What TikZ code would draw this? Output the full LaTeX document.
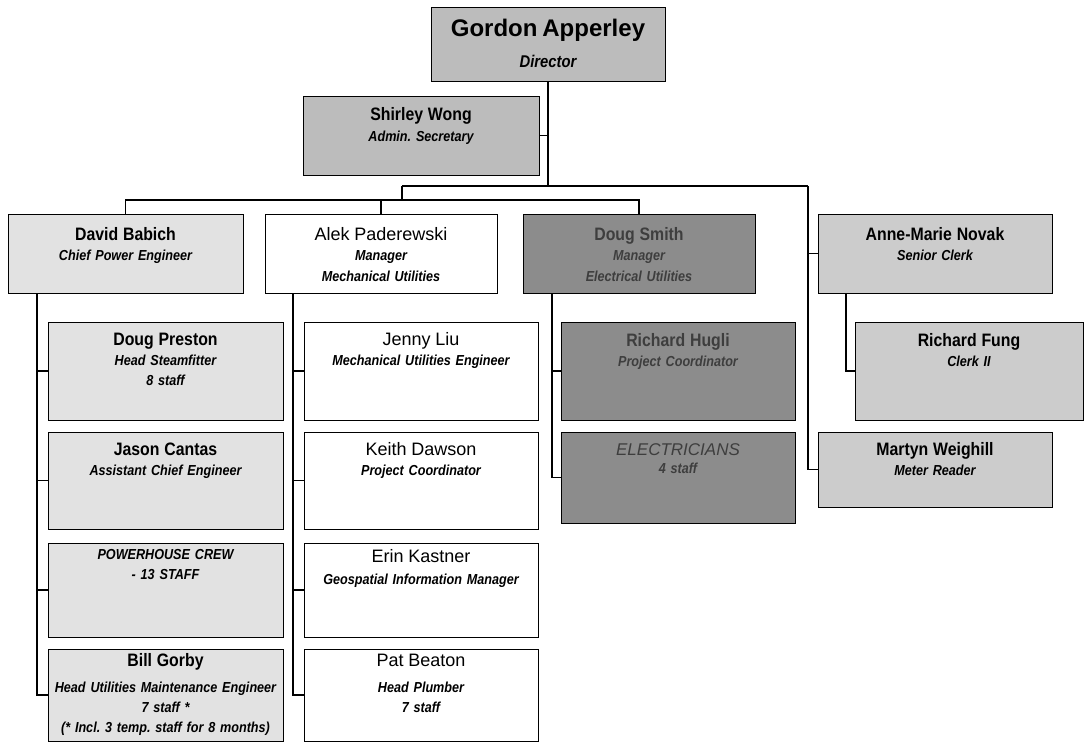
\documentclass[tikz,border=0pt]{standalone}
\usepackage{fontspec}
\setmainfont{Liberation Sans}
\newfontfamily\NarrowFam[FakeStretch=0.88]{Liberation Sans}
\newfontfamily\TitleFam[FakeStretch=0.87]{Liberation Sans}
\usetikzlibrary{shadows,calc}

\definecolor{cTop}{RGB}{188,188,188}
\definecolor{cLight}{RGB}{226,226,226}
\definecolor{cDark}{RGB}{140,140,140}
\definecolor{cMid}{RGB}{204,204,204}
\definecolor{cDarkText}{RGB}{62,62,62}

\newcommand\NameB{\NarrowFam\bfseries\upshape\fontsize{18}{20}\selectfont}
\newcommand\NameR{\normalfont\fontsize{18}{20}\selectfont}
\newcommand\TitleF{\TitleFam\bfseries\itshape\fontsize{14.5}{20}\selectfont\frenchspacing\spaceskip=3.4pt plus 1pt minus 0.5pt\relax}
\newcommand\GordonF{\normalfont\bfseries\fontsize{24}{26}\selectfont}
\newcommand\DirF{\TitleFam\bfseries\itshape\fontsize{17}{20}\selectfont}
\newcommand\ElecF{\normalfont\itshape\fontsize{17}{20}\selectfont}

% #1 name, #2 x1, #3 y1, #4 x2, #5 y2, #6 box style, #7 text style, #8 first baseline offset, #9 text
\newcommand\card[9]{%
  \node[card,#6,minimum width={#4-#2},minimum height={#5-#3}] (#1) at ({(#2+#4)/2},{(#3+#5)/2}) {};
  \node[lbl,#7,text width={#4-#2-6}] (#1-t) at ([yshift=-#8pt]#1.north) {#9};}

\tikzset{
  card/.style={draw=black, line width=0.7pt, inner sep=0pt, outer sep=0pt,
    drop shadow={shadow xshift=1.2pt, shadow yshift=-1.2pt, fill=black, opacity=0.85}},
  lbl/.style={anchor=base, align=center, inner sep=0pt, font=\TitleF},
  conn/.style={draw=black, line width=1.6pt}
}

\begin{document}
\begin{tikzpicture}[x=1pt,y=-1pt]
\fill[white] (0,0) rectangle (1084,742);
\useasboundingbox (0,0) rectangle (1084,742);

% top
\card{gordon}{431}{7}{665}{81}{fill=cTop}{}{29}{{\GordonF Gordon Apperley}\\[11pt]{\DirF Director}}
\card{shirley}{303}{96}{539}{175}{fill=cTop}{}{24}{{\NameB Shirley Wong}\\[1pt]Admin. Secretary}

% level 2
\card{david}{8}{214}{243}{293}{fill=cLight}{}{26}{{\NameB David Babich}\\Chief Power Engineer}
\card{alek}{265}{214}{497}{293}{fill=white}{}{26}{{\NameR Alek Paderewski}\\Manager\\[1pt]Mechanical Utilities}
\card{smith}{523}{214}{755}{293}{fill=cDark}{text=cDarkText}{26}{{\NameB Doug Smith}\\Manager\\[1pt]Electrical Utilities}
\card{anne}{818}{214}{1052}{293}{fill=cMid}{}{26}{{\NameB Anne-Marie Novak}\\Senior Clerk}

% row 1
\card{dp}{48}{322}{283}{420}{fill=cLight}{}{23}{{\NameB Doug Preston}\\Head Steamfitter\\8 staff}
\card{jenny}{304}{322}{538}{420}{fill=white}{}{23}{{\NameR Jenny Liu}\\Mechanical Utilities Engineer}
\card{hugli}{561}{322}{795}{420}{fill=cDark}{text=cDarkText}{24}{{\NameB Richard Hugli}\\Project Coordinator}
\card{fung}{855}{322}{1083}{420}{fill=cMid}{}{24}{{\NameB Richard Fung}\\Clerk II}

% row 2
\card{jason}{48}{432}{283}{529}{fill=cLight}{}{23}{{\NameB Jason Cantas}\\Assistant Chief Engineer}
\card{keith}{304}{432}{538}{529}{fill=white}{}{23}{{\NameR Keith Dawson}\\Project Coordinator}
\card{elec}{561}{432}{795}{523}{fill=cDark}{text=cDarkText}{23}{{\ElecF ELECTRICIANS}\\[-2pt]4 staff}
\card{martyn}{818}{432}{1052}{507}{fill=cMid}{}{23}{{\NameB Martyn Weighill}\\Meter Reader}

% row 3
\card{crew}{48}{543}{283}{637}{fill=cLight}{}{16}{POWERHOUSE CREW\\- 13 STAFF}
\card{erin}{304}{543}{538}{637}{fill=white}{}{19}{{\NameR Erin Kastner}\\[2pt]Geospatial Information Manager}

% row 4
\card{bill}{48}{649}{283}{741}{fill=cLight}{}{17}{{\NameB Bill Gorby}\\[6pt]Head Utilities Maintenance Engineer\\7 staff *\\(* Incl. 3 temp. staff for 8 months)}
\card{pat}{304}{649}{538}{741}{fill=white}{}{17}{{\NameR Pat Beaton}\\[6pt]Head Plumber\\7 staff}

% connectors
\coordinate (jA) at (548,186);
\coordinate (jL) at (402,186);
\coordinate (jR) at (808,186);
\coordinate (jB) at (402,200);
\draw[conn] (gordon.south) -- (jA);
\draw[conn] (shirley.east) -- (shirley.east -| jA);
\draw[conn] (jL) -- (jR);
\draw[conn] (jR) |- (martyn.west);
\draw[conn] (jR |- anne.west) -- (anne.west);
\draw[conn] (jL) -- (jB);
\draw[conn] (david.north) |- (jB) -| (smith.north);
\draw[conn] (alek.north) -- (alek.north |- jB);

\coordinate (dv) at ([xshift=29pt]david.south west);
\draw[conn] (dv) |- (bill.west);
\draw[conn] (dv |- dp.west) -- (dp.west);
\draw[conn] (dv |- jason.west) -- (jason.west);
\draw[conn] (dv |- crew.west) -- (crew.west);

\coordinate (av) at ([xshift=28pt]alek.south west);
\draw[conn] (av) |- (pat.west);
\draw[conn] (av |- jenny.west) -- (jenny.west);
\draw[conn] (av |- keith.west) -- (keith.west);
\draw[conn] (av |- erin.west) -- (erin.west);

\coordinate (sv) at ([xshift=29pt]smith.south west);
\draw[conn] (sv) |- (elec.west);
\draw[conn] (sv |- hugli.west) -- (hugli.west);

\coordinate (nv) at ([xshift=28pt]anne.south west);
\draw[conn] (nv) |- (fung.west);
\end{tikzpicture}
\end{document}
